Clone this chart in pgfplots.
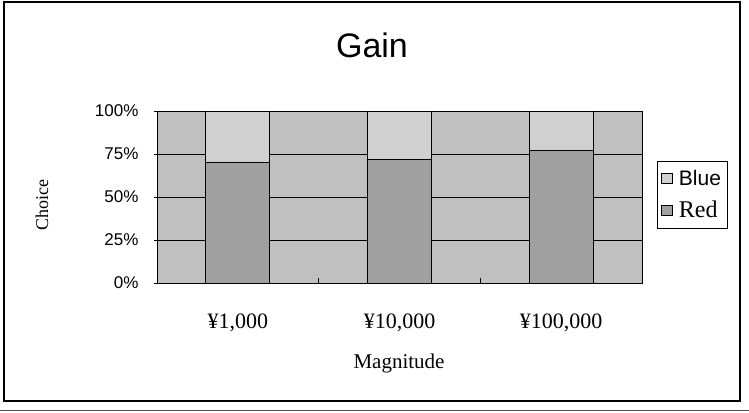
\documentclass[border=0pt]{standalone}
\usepackage{fontspec}
\setmainfont{Liberation Serif}
\setsansfont{Liberation Sans}
\usepackage{pgfplots}
\pgfplotsset{compat=1.18}
\usetikzlibrary{patterns.meta}
\definecolor{plotbg}{HTML}{C0C0C0}
\definecolor{redbar}{HTML}{A0A0A0}
\begin{document}
\begin{tikzpicture}[x=1pt,y=1pt]
\useasboundingbox (0,0) rectangle (749,412);
\draw[line width=1.2pt] (4,11) rectangle (740,410);
\draw[line width=1.5pt, gray!60!black] (0,1.5) -- (749,1.5);
\node[font=\sffamily\fontsize{34}{40}\selectfont] at (372,367) {Gain};
\begin{axis}[
  at={(157pt,129pt)}, anchor=south west,
  width=485pt, height=172pt, scale only axis,
  ybar stacked, bar width=64pt,
  xmin=-0.5, xmax=2.5, ymin=0, ymax=1,
  axis background/.style={fill=plotbg},
  xtick={0,1,2},
  xticklabels={{¥1,000},{¥10,000},{¥100,000}},
  minor xtick={0.5,1.5},
  x tick style={draw=none},
  minor x tick style={draw=black, line width=0.6pt},
  minor tick length=5pt,
  xtick pos=bottom, xtick align=inside,
  ytick={0,0.25,0.5,0.75,1},
  yticklabels={0\%,25\%,50\%,75\%,100\%},
  ytick pos=left, ytick align=outside,
  y tick style={black, line width=0.6pt},
  major tick length=3pt,
  ymajorgrids,
  major grid style={black, line width=0.7pt},
  axis line style={black, line width=0.8pt},
  xticklabel style={font=\rmfamily\fontsize{22}{24}\selectfont, anchor=center, yshift=-40pt},
  yticklabel style={font=\sffamily\fontsize{17}{20}\selectfont, anchor=east, xshift=-12pt},
  legend style={at={(1.031,0.71)}, anchor=north west, draw=black, fill=white,
    line width=0.6pt, inner xsep=4pt, inner ysep=7pt, row sep=10pt,
    font=\fontsize{24}{26}\selectfont,
    /tikz/every odd column/.append style={column sep=4pt}},
  legend cell align=left,
  reverse legend,
  legend image code/.code={\draw[#1, draw=black, line width=0.6pt] (0pt,-5pt) rectangle (11pt,5pt);},
]
\addplot[fill=redbar, draw=black, line width=0.8pt] coordinates {(0,0.70) (1,0.72) (2,0.77)};
\addlegendentry{\rmfamily Red}
\addplot[draw=black, line width=0.8pt,
  preaction={fill=gray!22},
  pattern={Dots[distance=2pt, radius=0.6pt]}, pattern color=gray!85]
  coordinates {(0,0.30) (1,0.28) (2,0.23)};
\addlegendentry{\sffamily\fontsize{21}{24}\selectfont Blue}
\end{axis}
\draw[white, line width=1.5pt] (157,126.3) -- (630,126.3);
\node[rotate=90, font=\rmfamily\fontsize{18}{21}\selectfont] at (42,207) {Choice};
\node[font=\rmfamily\fontsize{21}{24}\selectfont] at (399,49) {Magnitude};
\end{tikzpicture}
\end{document}
